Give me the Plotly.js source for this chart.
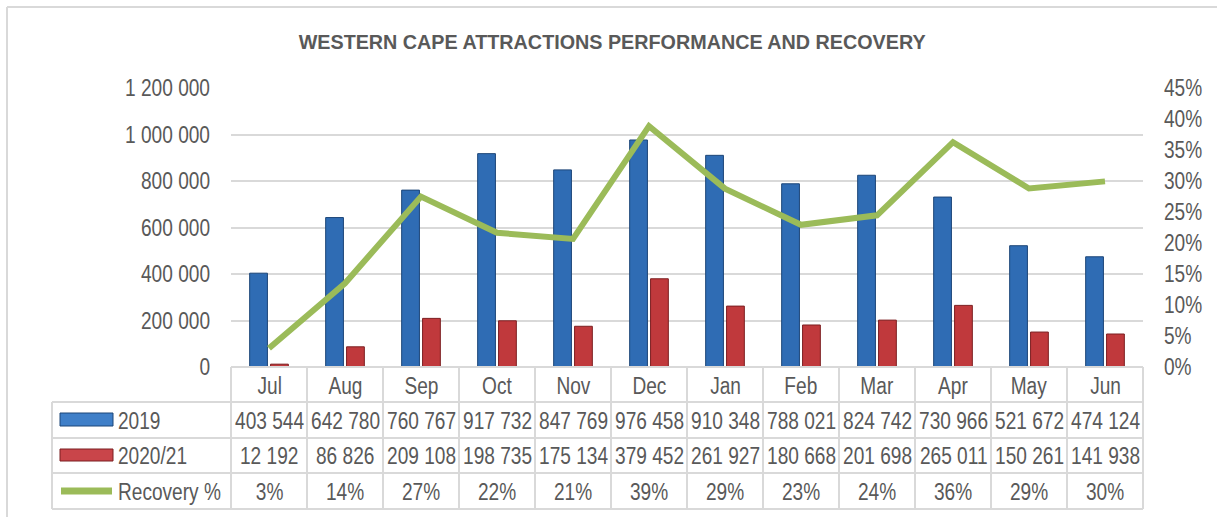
<!DOCTYPE html>
<html>
<head>
<meta charset="utf-8">
<script src="https://cdn.plot.ly/plotly-3.0.1.min.js"></script>
<style>html,body{margin:0;padding:0;background:#fff;}#chart{width:1217px;height:517px;}</style>
</head>
<body>
<div id="chart"></div>
<script>
const months = ['Jul','Aug','Sep','Oct','Nov','Dec','Jan','Feb','Mar','Apr','May','Jun'];
const visitors2019 = [403544, 642780, 760767, 917732, 847769, 976458, 910348, 788021, 824742, 730966, 521672, 474124];
const visitors2021 = [12192, 86826, 209108, 198735, 175134, 379452, 261927, 180668, 201698, 265011, 150261, 141938];
const recoveryPct = [3.02, 13.51, 27.49, 21.65, 20.66, 38.86, 28.77, 22.93, 24.46, 36.26, 28.80, 29.94];
const seriesNames = ['2019', '2020/21', 'Recovery %'];

const FONT = '"Liberation Sans Narrow", "Arial Narrow", "Liberation Sans", Arial, sans-serif';
const GRAY = '#595959';
const GRID = '#d9d9d9';

const W = 1217, H = 517;
const L = 231, R = 1143, T = 88, B = 367;
const pw = R - L, ph = B - T;
function px2x(p){ return (p - L) / pw; }
function px2y(p){ return (B - p) / ph; }

function fmt(n){ return String(n).replace(/\B(?=(\d{3})+(?!\d))/g, ' '); }

const traces = [
  {type:'bar', name:seriesNames[0], x:months, y:visitors2019,
   marker:{color:'#2f6cb4', line:{color:'#1d4678', width:1}}, hoverinfo:'skip'},
  {type:'bar', name:seriesNames[1], x:months, y:visitors2021,
   marker:{color:'#c0393c', line:{color:'#7b1e20', width:1}}, hoverinfo:'skip'},
  {type:'scatter', mode:'lines', name:seriesNames[2], x:months, y:recoveryPct.map(v=>v/100), yaxis:'y2',
   line:{color:'#9bbb59', width:6}, hoverinfo:'skip'}
];

const rowEdges = [367, 402, 438, 473, 509];
const tableLeft = 52;
const shapes = [];
const lineStyle = {color:GRID, width:2};
shapes.push({type:'line', xref:'paper', yref:'paper', x0:px2x(7), x1:px2x(W), y0:px2y(7), y1:px2y(7), line:lineStyle});
shapes.push({type:'line', xref:'paper', yref:'paper', x0:px2x(7), x1:px2x(7), y0:px2y(7), y1:px2y(H), line:lineStyle});
shapes.push({type:'line', xref:'paper', yref:'paper', x0:0, x1:1, y0:px2y(rowEdges[0]), y1:px2y(rowEdges[0]), line:lineStyle});
for (let i = 1; i < rowEdges.length; i++) {
  shapes.push({type:'line', xref:'paper', yref:'paper', x0:px2x(tableLeft), x1:1, y0:px2y(rowEdges[i]), y1:px2y(rowEdges[i]), line:lineStyle});
}
for (let i = 0; i <= months.length; i++) {
  shapes.push({type:'line', xref:'paper', yref:'paper', x0:i/months.length, x1:i/months.length, y0:px2y(rowEdges[0]), y1:px2y(rowEdges[4]), line:lineStyle});
}
shapes.push({type:'line', xref:'paper', yref:'paper', x0:px2x(tableLeft), x1:px2x(tableLeft), y0:px2y(rowEdges[1]), y1:px2y(rowEdges[4]), line:lineStyle});

// legend keys
shapes.push({type:'rect', xref:'paper', yref:'paper', x0:px2x(60), x1:px2x(113), y0:px2y(413), y1:px2y(426), fillcolor:'#3f7fc8', line:{color:'#1d4678', width:1}});
shapes.push({type:'rect', xref:'paper', yref:'paper', x0:px2x(60), x1:px2x(113), y0:px2y(449), y1:px2y(461), fillcolor:'#c9454a', line:{color:'#7b1e20', width:1}});
shapes.push({type:'line', xref:'paper', yref:'paper', x0:px2x(61), x1:px2x(112), y0:px2y(491), y1:px2y(491), line:{color:'#9bbb59', width:7}});

const annotations = [];
const rowCenters = rowEdges.slice(0,4).map((e,i)=> (e + rowEdges[i+1]) / 2);
function cell(text, xi, rowIdx){
  annotations.push({xref:'paper', yref:'paper', x:(xi+0.5)/months.length, y:px2y(rowCenters[rowIdx]+1),
    text:text, showarrow:false, xanchor:'center', yanchor:'middle',
    font:{family:FONT, size:23, color:GRAY}});
}
months.forEach((m,i)=>{
  cell(m, i, 0);
  cell(fmt(visitors2019[i]), i, 1);
  cell(fmt(visitors2021[i]), i, 2);
  cell(Math.round(recoveryPct[i]) + '%', i, 3);
});
const firstLabelIdx = annotations.length;
seriesNames.forEach((n,i)=>{
  annotations.push({xref:'paper', yref:'paper', x:px2x(116), y:px2y(rowCenters[i+1]+1),
    text:n, showarrow:false, xanchor:'left', yanchor:'middle',
    font:{family:FONT, size:23, color:GRAY}});
});

const layout = {
  width:W, height:H,
  margin:{l:L, r:W-R, t:T, b:H-B, pad:0},
  paper_bgcolor:'#ffffff', plot_bgcolor:'#ffffff',
  separators:'. ',
  showlegend:false,
  barmode:'group', bargap:0.45, bargroupgap:0.15,
  title:{text:'WESTERN CAPE ATTRACTIONS PERFORMANCE AND RECOVERY', x:0.503, xanchor:'center', y:1-42/H, yanchor:'middle', yref:'container',
    font:{family:FONT, size:21, color:GRAY, weight:'bold'}},
  xaxis:{type:'category', showticklabels:false, showgrid:false, zeroline:false, showline:false, ticks:'', range:[-0.5, 11.5], fixedrange:true},
  yaxis:{range:[0,1200000], dtick:200000, tickformat:',d', showgrid:true, gridcolor:GRID, gridwidth:2, zeroline:false, showline:false,
    ticks:'', ticklabelstandoff:20, tickfont:{family:FONT, size:23, color:GRAY}},
  yaxis2:{overlaying:'y', side:'right', range:[0,0.45], dtick:0.05, tickformat:'.0%', showgrid:false, zeroline:false, showline:false,
    ticks:'', ticklabelstandoff:20, tickfont:{family:FONT, size:23, color:GRAY}},
  shapes:shapes,
  annotations:annotations
};

// Narrow-font emulation: no condensed face is installed, so squeeze text horizontally.
function condense(sel, factor, keepLeft){
  document.querySelectorAll(sel).forEach(t => {
    const len = t.getComputedTextLength();
    if (len > 0) {
      t.setAttribute('textLength', (len * factor).toFixed(2));
      t.setAttribute('lengthAdjust', 'spacingAndGlyphs');
      if (keepLeft) {
        const x = parseFloat(t.getAttribute('x') || '0');
        t.setAttribute('x', (x - len * (1 - factor) / 2).toFixed(2));
      }
    }
  });
}

Plotly.newPlot('chart', traces, layout, {displayModeBar:false, staticPlot:true}).then(() => {
  document.querySelectorAll('#chart .annotation').forEach(g => {
    const idx = parseInt(g.getAttribute('data-index'), 10);
    condense('#chart .annotation[data-index="' + idx + '"] .annotation-text', 0.83, idx >= firstLabelIdx);
  });
  condense('#chart .ytick text', 0.83);
  condense('#chart .y2tick text', 0.83);
  condense('#chart .gtitle', 0.94);
});
</script>
</body>
</html>
